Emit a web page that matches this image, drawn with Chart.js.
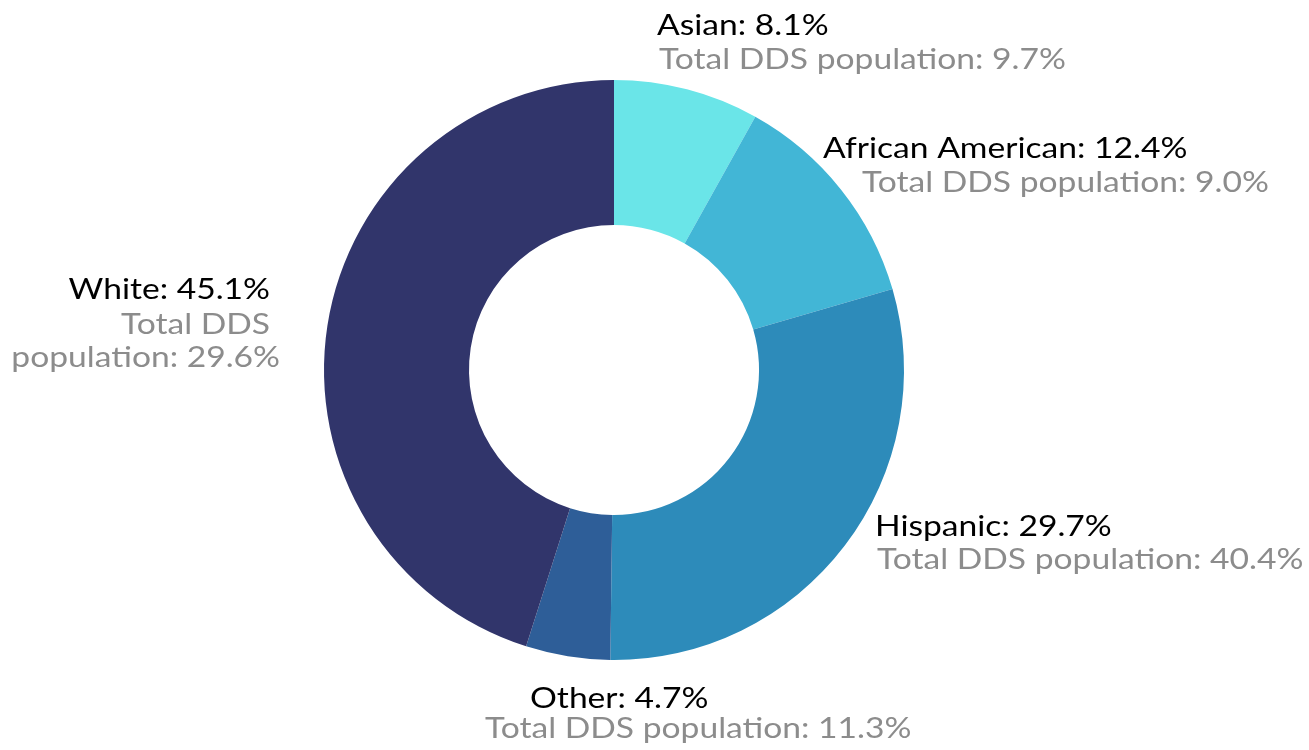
<!DOCTYPE html>
<html>
<head>
<meta charset="utf-8">
<script src="https://cdn.jsdelivr.net/npm/chart.js@4/dist/chart.umd.min.js"></script>
<style>
  html, body { margin: 0; padding: 0; background: #fff; }
  #wrap { width: 1309px; height: 750px; }
</style>
</head>
<body>
<div id="wrap"><canvas id="myDoughnutChart" width="1309" height="750"></canvas></div>
<script>
//---categories
var groups = [ 'Asian', 'African American', 'Hispanic', 'Other', 'White' ]

//---data (share of group, %)
var groupShare = [ 8.1, 12.4, 29.7, 4.7, 45.1 ]

//---total DDS population (%)
var ddsShare = [ 9.7, 9.0, 40.4, 11.3, 29.6 ]

var sliceColors = [ '#6ae5e8', '#42b6d6', '#2d8bba', '#2e5e98', '#31356b' ]

// label lines: offset from chart centre, per slice (first line black, rest grey)
var labelLayout = [
  [ { dx: 43, dy: -335, align: 'left' }, { dx: 45, dy: -301, align: 'left' } ],
  [ { dx: 209, dy: -212, align: 'left' }, { dx: 248, dy: -178, align: 'left' } ],
  [ { dx: 261, dy: 166, align: 'left' }, { dx: 263, dy: 199, align: 'left' } ],
  [ { dx: -84, dy: 338, align: 'left' }, { dx: -129, dy: 368, align: 'left' } ],
  [ { dx: -344, dy: -71, align: 'right' }, { dx: -344, dy: -36, align: 'right' }, { dx: -334, dy: -3, align: 'right' } ]
]

// the original face is wider than Lato, so stretch the text a little
var textStretch = 1.2

function labelLines(i) {
  var first = groups[i] + ': ' + groupShare[i].toFixed(1) + '%';
  var second = 'Total DDS population: ' + ddsShare[i].toFixed(1) + '%';
  if (labelLayout[i].length === 3) {
    return [ first, 'Total DDS', 'population: ' + ddsShare[i].toFixed(1) + '%' ];
  }
  return [ first, second ];
}

var outsideLabels = {
  id: 'outsideLabels',
  afterDatasetsDraw: function (chart) {
    var ctx = chart.ctx;
    var arc = chart.getDatasetMeta(0).data[0];
    var cx = arc.x, cy = arc.y;
    groups.forEach(function (g, i) {
      var lines = labelLines(i);
      lines.forEach(function (txt, j) {
        var pos = labelLayout[i][j];
        ctx.save();
        ctx.font = '28px Lato';
        ctx.textBaseline = 'alphabetic';
        ctx.fillStyle = j === 0 ? '#000000' : '#8c8c8c';
        ctx.textAlign = pos.align;
        ctx.translate(cx + pos.dx, cy + pos.dy);
        ctx.scale(textStretch, 1);
        ctx.fillText(txt, 0, 0);
        ctx.restore();
      });
    });
  }
};

var ctxCircle = document.getElementById('myDoughnutChart');

var dataCircle = {
  labels: groups,
  datasets: [{
    data: groupShare,
    backgroundColor: sliceColors,
    borderWidth: 0,
    hoverOffset: 0
  }]
};

var optionsCircle = {
  responsive: false,
  animation: false,
  cutout: '50%',
  layout: {
    padding: { left: 324, right: 405, top: 78, bottom: 88 }
  },
  plugins: {
    legend: { display: false },
    tooltip: { enabled: false }
  }
};

var myDoughnutChart = new Chart(ctxCircle, {
  type: 'doughnut',
  data: dataCircle,
  options: optionsCircle,
  plugins: [ outsideLabels ]
});
</script>
</body>
</html>
